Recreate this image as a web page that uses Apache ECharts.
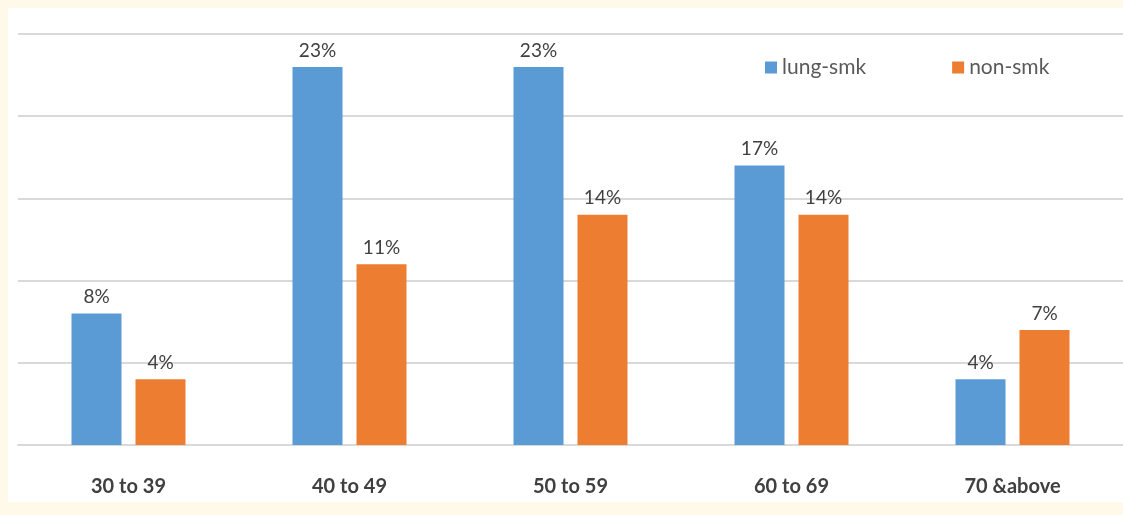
<!DOCTYPE html>
<html>
<head>
<meta charset="utf-8">
<script src="https://cdn.jsdelivr.net/npm/echarts@6/dist/echarts.min.js"></script>
<style>
  html, body { margin: 0; padding: 0; background: #fef9e8; }
  #chart { position: absolute; left: 8px; top: 8px; width: 1115px; height: 494px; background: #ffffff; }
</style>
</head>
<body>
<div id="chart"></div>
<script>
// Age groups and share of cases (%) for each group
const categories = ['30 to 39', '40 to 49', '50 to 59', '60 to 69', '70 &above'];
const lungSmk = [8, 23, 23, 17, 4];
const nonSmk = [4, 11, 14, 14, 7];
const seriesNames = ['lung-smk', 'non-smk'];

const FONT = 'Lato, "Open Sans", sans-serif';
const textColor = '#404040';

const labelStyle = {
  show: true,
  position: 'top',
  distance: 7,
  formatter: '{c}%',
  color: textColor,
  fontFamily: FONT,
  fontSize: 19
};

const chart = echarts.init(document.getElementById('chart'), null, { renderer: 'canvas' });
chart.setOption({
  animation: false,
  grid: { left: 10, right: 0, top: 26, bottom: 57, containLabel: false },
  legend: {
    data: seriesNames,
    left: 752,
    top: 44,
    itemWidth: 12,
    itemHeight: 12,
    itemGap: 86,
    icon: 'rect',
    textStyle: { color: '#595959', fontFamily: FONT, fontSize: 21 }
  },
  xAxis: {
    type: 'category',
    data: categories,
    axisTick: { show: false },
    axisLine: { lineStyle: { color: '#d9d9d9', width: 2 } },
    axisLabel: {
      margin: 32,
      color: textColor,
      fontFamily: FONT,
      fontWeight: 'bold',
      fontSize: 20
    }
  },
  yAxis: {
    type: 'value',
    min: 0,
    max: 25,
    interval: 5,
    axisLabel: { show: false },
    axisLine: { show: false },
    axisTick: { show: false },
    splitLine: { lineStyle: { color: '#d9d9d9', width: 2 } }
  },
  series: [
    {
      name: seriesNames[0],
      type: 'bar',
      data: lungSmk,
      barWidth: 50,
      barGap: '28%',
      itemStyle: { color: '#5b9bd5' },
      label: labelStyle
    },
    {
      name: seriesNames[1],
      type: 'bar',
      data: nonSmk,
      barWidth: 50,
      itemStyle: { color: '#ed7d31' },
      label: labelStyle
    }
  ]
});
</script>
</body>
</html>
